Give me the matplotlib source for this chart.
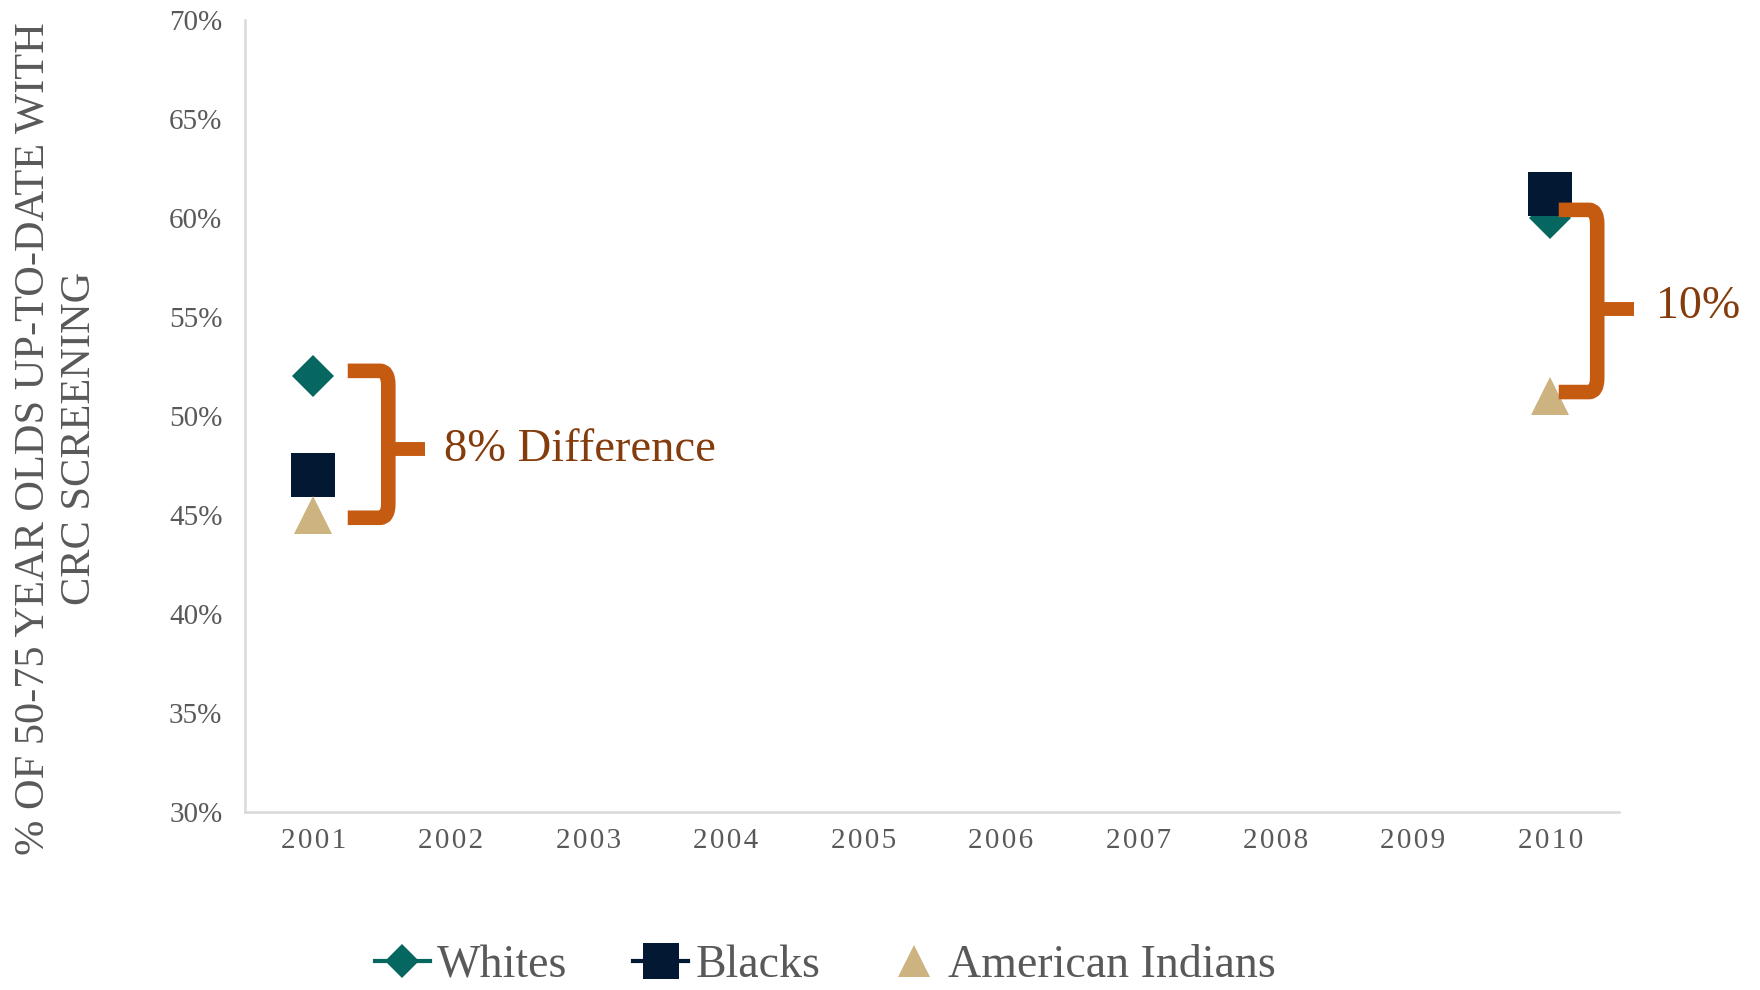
import numpy as np
import matplotlib
matplotlib.use("Agg")
import matplotlib.pyplot as plt
from matplotlib.path import Path
from matplotlib.patches import PathPatch

# data
years = [2001, 2002, 2003, 2004, 2005, 2006, 2007, 2008, 2009, 2010]
whites = [52, np.nan, np.nan, np.nan, np.nan, np.nan, np.nan, np.nan, np.nan, 60]
blacks = [47, np.nan, np.nan, np.nan, np.nan, np.nan, np.nan, np.nan, np.nan, 61.2]
american_indians = [45, np.nan, np.nan, np.nan, np.nan, np.nan, np.nan, np.nan, np.nan, 51]
y_ticks = [30, 35, 40, 45, 50, 55, 60, 65, 70]
gap_labels = ["8% Difference", "10%"]

GRAY = "#595959"
BRACE = "#C55A11"
NOTE = "#843C0C"

plt.rcParams['font.family'] = ['Liberation Serif', 'DejaVu Serif']

fig = plt.figure(figsize=(17.6, 9.9), dpi=100)
ax = fig.add_axes([0.139, 0.180, 0.781, 0.800])

ax.plot(years, whites, color="#05675F", marker="D", markersize=21.5,
        markeredgewidth=0, linewidth=3, label="Whites", zorder=3)
ax.plot(years, blacks, color="#021833", marker="s", markersize=32,
        markeredgewidth=0, linewidth=3, label="Blacks", zorder=4)
ax.plot(years, american_indians, color="#CDB380", marker="^", markersize=28,
        markeredgewidth=0, linestyle="none", label="American Indians", zorder=5)

ax.set_xlim(2000.5, 2010.5)
ax.set_ylim(30, 70)
ax.set_xticks(years)
# the year labels are slightly letter-spaced in the original
ax.set_xticklabels(["\u200a".join(str(y)) for y in years])
ax.set_yticks(y_ticks)
ax.set_yticklabels([f"{v}%" for v in y_ticks])
ax.tick_params(axis="x", length=0, pad=12, labelsize=21, labelcolor=GRAY)
ax.tick_params(axis="y", length=0, pad=16, labelsize=21, labelcolor=GRAY)

for side in ["top", "right"]:
    ax.spines[side].set_visible(False)
for side in ["left", "bottom"]:
    ax.spines[side].set_color("#D9D9D9")
    ax.spines[side].set_linewidth(1.8)


def brace(x0, x1, xtip, ytop, ybot, ymid, r_x=0.06, r_y=0.7):
    # right-facing curly brace: top arm, spine, middle tab, bottom arm
    verts = [(x0, ytop), (x1 - r_x, ytop), (x1, ytop), (x1, ytop - r_y),
             (x1, ybot + r_y), (x1, ybot), (x1 - r_x, ybot), (x0, ybot)]
    codes = [Path.MOVETO, Path.LINETO, Path.CURVE3, Path.CURVE3,
             Path.LINETO, Path.CURVE3, Path.CURVE3, Path.LINETO]
    ax.add_patch(PathPatch(Path(verts, codes), fill=False, edgecolor=BRACE,
                           linewidth=10.5, capstyle="butt", joinstyle="round",
                           clip_on=False, zorder=6))
    ax.plot([x1, xtip], [ymid, ymid], color=BRACE, linewidth=10,
            solid_capstyle="butt", clip_on=False, zorder=6)


brace(2001.25, 2001.545, 2001.81, 52.27, 44.85, 48.3)
ax.text(2001.95, 48.3, gap_labels[0], color=NOTE, fontsize=33.5,
        va="center", ha="left")

brace(2010.06, 2010.34, 2010.61, 60.4, 51.2, 55.4)
ax.text(2010.77, 55.5, gap_labels[1], color=NOTE, fontsize=33,
        va="center", ha="left", clip_on=False)

fig.text(0.032, 0.557, "% OF 50-75 YEAR OLDS UP-TO-DATE WITH\nCRC SCREENING",
         rotation=90, ha="center", va="center", color=GRAY, fontsize=30.5,
         linespacing=1.25)

fig.legend(loc="center", bbox_to_anchor=(0.469, 0.024), ncol=3, frameon=False,
           fontsize=33, labelcolor=GRAY, handlelength=1.2, handletextpad=0.15,
           columnspacing=1.45, markerscale=0.8, borderpad=0.2)

fig.savefig("out.png", dpi=100)
